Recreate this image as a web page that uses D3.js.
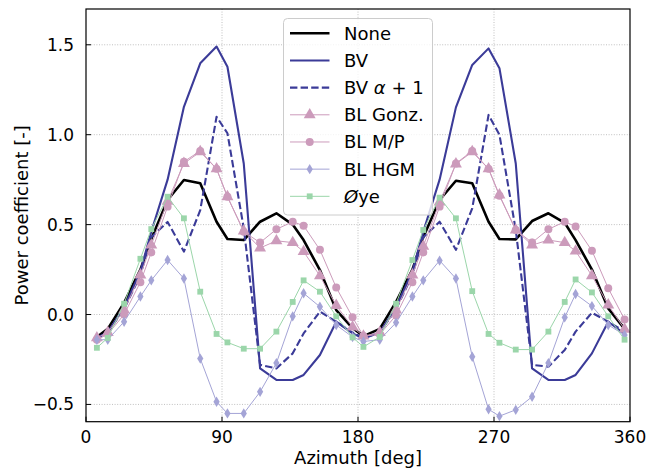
<!DOCTYPE html>
<html>
<head>
<meta charset="utf-8">
<script src="https://cdn.jsdelivr.net/npm/d3@7"></script>
<style>
  body { margin: 0; background: #fff; }
  text { font-family: "DejaVu Sans", sans-serif; }
</style>
</head>
<body>
<div id="chart"></div>
<script>
// azimuth positions of the samples (deg)
var azimuth = [7.2, 14.4, 25.2, 36, 43.2, 54, 64.8, 75.6, 86.4, 93.6, 104.4, 115.2, 126, 136.8, 144, 154.8, 165.6, 176.4,
    183.6, 194.4, 205.2, 216, 223.2, 234, 244.8, 255.6, 266.4, 273.6, 284.4, 295.2, 306, 316.8, 324, 334.8, 345.6, 356.4];

var cpNone = [-0.125, -0.08, 0.065, 0.25, 0.42, 0.637, 0.748, 0.73, 0.516, 0.42, 0.414, 0.516, 0.563, 0.5, 0.414, 0.247, 0.025, -0.075,
    -0.12, -0.08, 0.07, 0.25, 0.43, 0.637, 0.744, 0.73, 0.516, 0.42, 0.418, 0.52, 0.563, 0.51, 0.414, 0.25, 0.034, -0.08];
var cpBV = [-0.13, -0.1, 0.04, 0.24, 0.46, 0.75, 1.155, 1.397, 1.49, 1.378, 0.84, -0.3, -0.364, -0.364, -0.336, -0.225, -0.04, -0.105,
    -0.133, -0.1, 0.04, 0.24, 0.46, 0.75, 1.152, 1.388, 1.48, 1.37, 0.84, -0.3, -0.364, -0.364, -0.336, -0.216, -0.04, -0.108];
var cpBVa = [-0.13, -0.1, 0.03, 0.22, 0.43, 0.515, 0.35, 0.58, 1.1, 1.008, 0.48, -0.28, -0.3, -0.216, -0.105, 0.016, -0.04, -0.1,
    -0.13, -0.1, 0.03, 0.22, 0.43, 0.516, 0.36, 0.59, 1.11, 1.0, 0.47, -0.28, -0.29, -0.197, -0.095, 0.01, -0.04, -0.095];
var cpGonz = [-0.13, -0.1, 0.025, 0.22, 0.386, 0.63, 0.84, 0.905, 0.81, 0.655, 0.464, 0.37, 0.41, 0.4, 0.35, 0.215, 0.05, -0.07,
    -0.12, -0.1, 0.025, 0.22, 0.38, 0.625, 0.837, 0.905, 0.81, 0.665, 0.47, 0.386, 0.414, 0.4, 0.353, 0.216, 0.053, -0.082];
var cpMP = [-0.14, -0.11, 0.0, 0.18, 0.345, 0.6, 0.85, 0.91, 0.81, 0.655, 0.46, 0.4, 0.474, 0.516, 0.494, 0.36, 0.15, -0.015,
    -0.12, -0.11, -0.005, 0.18, 0.345, 0.6, 0.84, 0.91, 0.81, 0.66, 0.47, 0.4, 0.474, 0.516, 0.49, 0.355, 0.146, -0.027];
var cpHGM = [-0.14, -0.14, -0.04, 0.1, 0.19, 0.303, 0.2, -0.245, -0.485, -0.55, -0.55, -0.43, -0.27, -0.01, 0.118, 0.043, -0.058, -0.125,
    -0.15, -0.14, -0.045, 0.1, 0.19, 0.3, 0.2, -0.235, -0.527, -0.565, -0.53, -0.457, -0.27, -0.016, 0.114, 0.047, -0.058, -0.114];
var cpOye = [-0.185, -0.13, 0.06, 0.31, 0.475, 0.655, 0.535, 0.127, -0.108, -0.155, -0.19, -0.19, -0.095, 0.07, 0.19, 0.127, -0.01, -0.127,
    -0.18, -0.125, 0.06, 0.303, 0.47, 0.65, 0.535, 0.13, -0.108, -0.157, -0.195, -0.195, -0.095, 0.07, 0.195, 0.123, -0.01, -0.14];

var xTicks = [0, 90, 180, 270, 360];
var yTicks = [-0.5, 0, 0.5, 1.0, 1.5];

var w = 649, h = 469;
var pLeft = 86, pRight = 630, pTop = 9, pBottom = 421.7;
var tickFont = 17, labelFont = 18;

var svg = d3.select("#chart").append("svg").attr("width", w).attr("height", h);

var x = d3.scaleLinear().domain([0, 360]).range([pLeft, pRight]);
var y = d3.scaleLinear().domain([-0.596, 1.699]).range([pBottom, pTop]);

// dotted grid
svg.append("g").selectAll("line").data(xTicks.slice(1, 4)).enter().append("line")
    .attr("x1", function (d) { return x(d); }).attr("x2", function (d) { return x(d); })
    .attr("y1", pTop).attr("y2", pBottom)
    .attr("stroke", "#b0b0b0").attr("stroke-width", 0.8).attr("stroke-dasharray", "1,1.6");
svg.append("g").selectAll("line").data(yTicks).enter().append("line")
    .attr("x1", pLeft).attr("x2", pRight)
    .attr("y1", function (d) { return y(d); }).attr("y2", function (d) { return y(d); })
    .attr("stroke", "#b0b0b0").attr("stroke-width", 0.8).attr("stroke-dasharray", "1,1.6");

// thin diamond like matplotlib "d"
var thinDiamond = {
    draw: function (ctx, size) {
        var r = Math.sqrt(size) * 0.62;
        ctx.moveTo(0, -r);
        ctx.lineTo(r * 0.6, 0);
        ctx.lineTo(0, r);
        ctx.lineTo(-r * 0.6, 0);
        ctx.closePath();
    }
};

var series = [
    { name: "None", values: cpNone, color: "#000000", width: 2.6, dash: null, marker: null },
    { name: "BV", values: cpBV, color: "#3b3b98", width: 2.1, dash: null, marker: null },
    { name: "BVa", values: cpBVa, color: "#3b3b98", width: 2.1, dash: "7.4,3.2", marker: null },
    { name: "BL Gonz.", values: cpGonz, color: "#cc9bbb", width: 1, dash: null, marker: d3.symbolTriangle, size: 62 },
    { name: "BL M/P", values: cpMP, color: "#cc9bbb", width: 1, dash: null, marker: d3.symbolCircle, size: 50 },
    { name: "BL HGM", values: cpHGM, color: "#a4a4d6", width: 1, dash: null, marker: thinDiamond, size: 70 },
    { name: "Oye", values: cpOye, color: "#9bd6aa", width: 1, dash: null, marker: d3.symbolSquare, size: 34 }
];

var line = d3.line()
    .x(function (d) { return x(d[0]); })
    .y(function (d) { return y(d[1]); });

var plot = svg.append("g");
series.forEach(function (s) {
    var pts = azimuth.map(function (a, i) { return [a, s.values[i]]; });
    plot.append("path").datum(pts)
        .attr("d", line)
        .attr("fill", "none")
        .attr("stroke", s.color)
        .attr("stroke-width", s.width)
        .attr("stroke-dasharray", s.dash)
        .attr("stroke-linejoin", "round");
    if (s.marker) {
        plot.append("g").selectAll("path").data(pts).enter().append("path")
            .attr("d", d3.symbol().type(s.marker).size(s.size))
            .attr("transform", function (d) { return "translate(" + x(d[0]) + "," + y(d[1]) + ")"; })
            .attr("fill", s.color);
    }
});

// frame
svg.append("rect").attr("x", pLeft).attr("y", pTop).attr("width", pRight - pLeft).attr("height", pBottom - pTop)
    .attr("fill", "none").attr("stroke", "#000").attr("stroke-width", 1.2);

// ticks (inward) and tick labels
var fmtY = function (d) { return d3.format(".1f")(d).replace("-", "\u2212"); };
svg.append("g").selectAll("line").data(xTicks).enter().append("line")
    .attr("x1", function (d) { return x(d); }).attr("x2", function (d) { return x(d); })
    .attr("y1", pBottom).attr("y2", pBottom - 5)
    .attr("stroke", "#000").attr("stroke-width", 1);
svg.append("g").selectAll("text").data(xTicks).enter().append("text")
    .attr("x", function (d) { return x(d); }).attr("y", 443)
    .attr("text-anchor", "middle").attr("font-size", tickFont)
    .text(function (d) { return d; });
svg.append("g").selectAll("line").data(yTicks).enter().append("line")
    .attr("x1", pLeft).attr("x2", pLeft + 5)
    .attr("y1", function (d) { return y(d); }).attr("y2", function (d) { return y(d); })
    .attr("stroke", "#000").attr("stroke-width", 1);
svg.append("g").selectAll("text").data(yTicks).enter().append("text")
    .attr("x", 74).attr("y", function (d) { return y(d) + 6; })
    .attr("text-anchor", "end").attr("font-size", tickFont)
    .text(fmtY);

// axis labels
svg.append("text").attr("x", (pLeft + pRight) / 2).attr("y", 464)
    .attr("text-anchor", "middle").attr("font-size", labelFont).text("Azimuth [deg]");
svg.append("text").attr("transform", "translate(28," + ((pTop + pBottom) / 2) + ") rotate(-90)")
    .attr("text-anchor", "middle").attr("font-size", labelFont).text("Power coefficient [-]");

// legend
var lg = svg.append("g");
lg.append("rect").attr("x", 283.5).attr("y", 18.5).attr("width", 149).attr("height", 196.5)
    .attr("rx", 4).attr("fill", "#fff").attr("fill-opacity", 0.8)
    .attr("stroke", "#cccccc").attr("stroke-width", 1);
series.forEach(function (s, i) {
    var cy = 33.3 + i * 27.17;
    lg.append("line").attr("x1", 290).attr("x2", 329.5).attr("y1", cy).attr("y2", cy)
        .attr("stroke", s.color).attr("stroke-width", s.width).attr("stroke-dasharray", s.dash);
    if (s.marker) {
        lg.append("path").attr("d", d3.symbol().type(s.marker).size(s.size))
            .attr("transform", "translate(309.7," + cy + ")").attr("fill", s.color);
    }
    var t = lg.append("text").attr("x", 344).attr("y", cy + 6.5).attr("font-size", labelFont);
    if (s.name === "BVa") {
        t.append("tspan").text("BV ");
        t.append("tspan").attr("font-style", "italic").text("\u03b1");
        t.append("tspan").text(" + 1");
    } else if (s.name === "Oye") {
        t.append("tspan").attr("font-style", "italic").text("\u00d8");
        t.append("tspan").text("ye");
    } else {
        t.text(s.name);
    }
});
</script>
</body>
</html>
